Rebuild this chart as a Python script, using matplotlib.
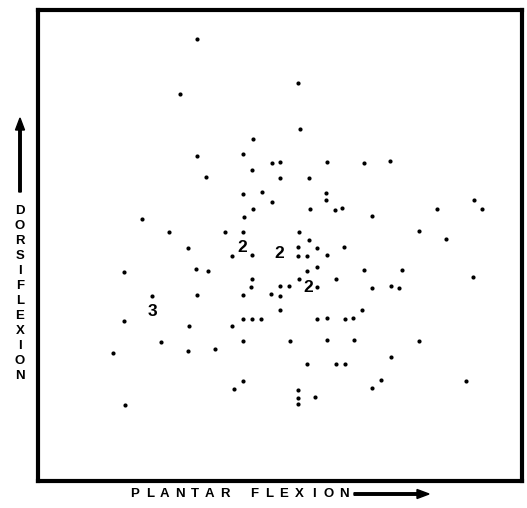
import numpy as np
import matplotlib
matplotlib.use("Agg")
import matplotlib.pyplot as plt

# plantar flexion (x) vs dorsiflexion (y), units
plantar = [159, 142, 260, 262, 215, 159, 205, 234, 242, 289, 326, 352, 214, 168, 242,
           271, 205, 224, 288, 234, 288, 215, 272, 297, 304, 334, 399, 436, 444, 104,
           206, 131, 187, 205, 261, 381, 271, 408, 150, 260, 279, 306, 194, 214, 260,
           269, 289, 86, 158, 170, 269, 279, 326, 364, 435, 214, 213, 242, 251, 261,
           279, 298, 334, 353, 361, 114, 159, 205, 233, 242, 86, 151, 194, 205, 214,
           223, 242, 279, 289, 307, 315, 324, 123, 150, 177, 205, 252, 289, 316, 381,
           75, 269, 298, 307, 353, 205, 196, 343, 334, 428, 260, 260, 260, 277, 87]
dorsi = [442, 387, 398, 352, 342, 325, 327, 318, 319, 319, 318, 320, 311, 304, 303,
         303, 287, 289, 288, 279, 281, 272, 272, 271, 273, 265, 272, 281, 272, 262,
         264, 249, 249, 249, 249, 250, 241, 242, 233, 234, 233, 234, 225, 226, 225,
         225, 226, 209, 212, 210, 210, 214, 211, 211, 204, 202, 194, 195, 195, 202,
         194, 202, 193, 195, 193, 185, 186, 186, 187, 185, 160, 155, 155, 162, 162,
         162, 171, 162, 163, 162, 163, 171, 139, 130, 132, 140, 140, 141, 141, 140,
         128, 117, 117, 117, 124, 100, 92, 101, 93, 100, 91, 83, 77, 84, 76]

# overlapping subjects shown as counts
count_x = [204, 241, 270, 114]
count_y = [234, 228, 194, 169]
count_txt = ["2", "2", "2", "3"]

W, H = 527, 508
fig = plt.figure(figsize=(W / 100, H / 100), dpi=100)
ax = fig.add_axes([38 / W, 1 - 481 / H, 484 / W, 471 / H])
ax.scatter(plantar, dorsi, s=9, c="black", linewidths=0)
for x, y, t in zip(count_x, count_y, count_txt):
    ax.text(x, y, t, ha="center", va="center", fontsize=12.5, fontweight="bold",
            family="Liberation Sans")
ax.set_xlim(0, 484)
ax.set_ylim(0, 471)
ax.set_xticks([])
ax.set_yticks([])
for sp in ax.spines.values():
    sp.set_linewidth(3)

# letter-spaced axis labels
lab_font = dict(fontsize=9.5, fontweight="bold", family="Liberation Sans",
                ha="center", va="center")
for i, ch in enumerate("PLANTAR FLEXION"):
    fig.text((135 + i * 14.9) / W, 1 - 494 / H, ch, **lab_font)
fig.add_artist(matplotlib.patches.FancyArrow(
    354 / W, 1 - 494 / H, 75 / W, 0, width=2.5 / H, head_width=9 / H,
    head_length=12 / W, length_includes_head=True, color="black",
    transform=fig.transFigure))

for i, ch in enumerate("DORSIFLEXION"):
    fig.text(20 / W, 1 - (211 + i * 15) / H, ch, **lab_font)
fig.add_artist(matplotlib.patches.FancyArrow(
    20 / W, 1 - 192 / H, 0, 74 / H, width=2.5 / W, head_width=9 / W,
    head_length=12 / H, length_includes_head=True, color="black",
    transform=fig.transFigure))

fig.savefig("out.png", dpi=100)
